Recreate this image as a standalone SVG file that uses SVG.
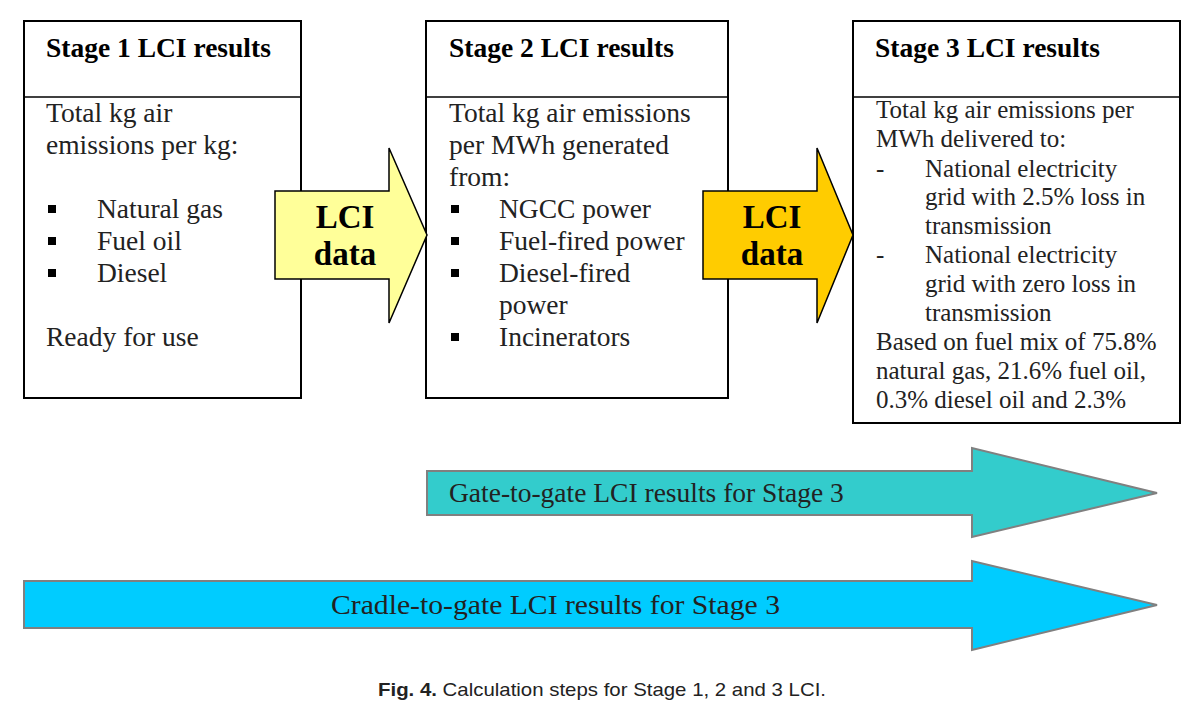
<svg xmlns="http://www.w3.org/2000/svg" width="1196" height="703" viewBox="0 0 1196 703">
<style>
.box{fill:#fff;stroke:#000;stroke-width:2}
.div{stroke:#000;stroke-width:1.5}
.hd{font-family:"Liberation Serif",serif;font-weight:bold;font-size:27.5px;fill:#000}
.tx{font-family:"Liberation Serif",serif;font-size:27.5px;fill:#222}
.tx3{font-family:"Liberation Serif",serif;font-size:25px;fill:#222}
.lci{font-family:"Liberation Serif",serif;font-weight:bold;font-size:33px;fill:#000;text-anchor:middle}
.blk{stroke:#000;stroke-width:1.5}
.big{stroke:#808080;stroke-width:2}
.cap{font-family:"Liberation Sans",sans-serif;font-size:19px;fill:#222}
</style>
<g id="stage1">
<rect class="box" x="24" y="21" width="277" height="377"/>
<line class="div" x1="24" y1="97" x2="301" y2="97"/>
<text class="hd" x="46" y="57">Stage 1 LCI results</text>
<text class="tx" x="46" y="122">Total kg air</text>
<text class="tx" x="46" y="154">emissions per kg:</text>
<rect x="48" y="205" width="8" height="8" fill="#000"/>
<rect x="48" y="237" width="8" height="8" fill="#000"/>
<rect x="48" y="269" width="8" height="8" fill="#000"/>
<text class="tx" x="97" y="218">Natural gas</text>
<text class="tx" x="97" y="250">Fuel oil</text>
<text class="tx" x="97" y="282">Diesel</text>
<text class="tx" x="46" y="346">Ready for use</text>
</g>
<g id="stage2">
<rect class="box" x="426" y="21" width="302" height="377"/>
<line class="div" x1="426" y1="97" x2="728" y2="97"/>
<text class="hd" x="449" y="57">Stage 2 LCI results</text>
<text class="tx" x="449" y="122">Total kg air emissions</text>
<text class="tx" x="449" y="154">per MWh generated</text>
<text class="tx" x="449" y="186">from:</text>
<rect x="451" y="205" width="8" height="8" fill="#000"/>
<rect x="451" y="237" width="8" height="8" fill="#000"/>
<rect x="451" y="269" width="8" height="8" fill="#000"/>
<rect x="451" y="333" width="8" height="8" fill="#000"/>
<text class="tx" x="499" y="218">NGCC power</text>
<text class="tx" x="499" y="250">Fuel-fired power</text>
<text class="tx" x="499" y="282">Diesel-fired</text>
<text class="tx" x="499" y="314">power</text>
<text class="tx" x="499" y="346">Incinerators</text>
</g>
<g id="stage3">
<rect class="box" x="853" y="21" width="327" height="402"/>
<line class="div" x1="853" y1="97" x2="1180" y2="97"/>
<text class="hd" x="875" y="57">Stage 3 LCI results</text>
<text class="tx3" x="876" y="118">Total kg air emissions per</text>
<text class="tx3" x="876" y="147">MWh delivered to:</text>
<text class="tx3" x="876" y="177">-</text>
<text class="tx3" x="925" y="177">National electricity</text>
<text class="tx3" x="925" y="205">grid with 2.5% loss in</text>
<text class="tx3" x="925" y="234">transmission</text>
<text class="tx3" x="876" y="263">-</text>
<text class="tx3" x="925" y="263">National electricity</text>
<text class="tx3" x="925" y="292">grid with zero loss in</text>
<text class="tx3" x="925" y="321">transmission</text>
<text class="tx3" x="876" y="350">Based on fuel mix of 75.8%</text>
<text class="tx3" x="876" y="379">natural gas, 21.6% fuel oil,</text>
<text class="tx3" x="876" y="408">0.3% diesel oil and 2.3%</text>
</g>
<g id="connectors">
<g id="lci1">
<polygon class="blk" fill="#FFFF99" points="275,191 389,191 389,148 427,235 389,323 389,279 275,279"/>
<text class="lci" x="345" y="228">LCI</text>
<text class="lci" x="345" y="265">data</text>
</g>
<g id="lci2">
<polygon class="blk" fill="#FFCC00" points="703,191 817,191 817,148 853,235 817,323 817,279 703,279"/>
<text class="lci" x="772" y="228">LCI</text>
<text class="lci" x="772" y="265">data</text>
</g>
</g>
<g id="gate">
<polygon class="big" fill="#33CCCC" points="427,471 972,471 972,448 1157,493 972,537 972,515 427,515"/>
<text class="tx" x="449" y="502">Gate-to-gate LCI results for Stage 3</text>
</g>
<g id="cradle">
<polygon class="big" fill="#00CCFF" points="24,581 972,581 972,561 1157,605 972,650 972,628 24,628"/>
<text class="tx" x="331" y="614" textLength="449" lengthAdjust="spacingAndGlyphs">Cradle-to-gate LCI results for Stage 3</text>
</g>
<text class="cap" x="378" y="696" textLength="448" lengthAdjust="spacingAndGlyphs"><tspan font-weight="bold">Fig. 4.</tspan> Calculation steps for Stage 1, 2 and 3 LCI.</text>
</svg>
